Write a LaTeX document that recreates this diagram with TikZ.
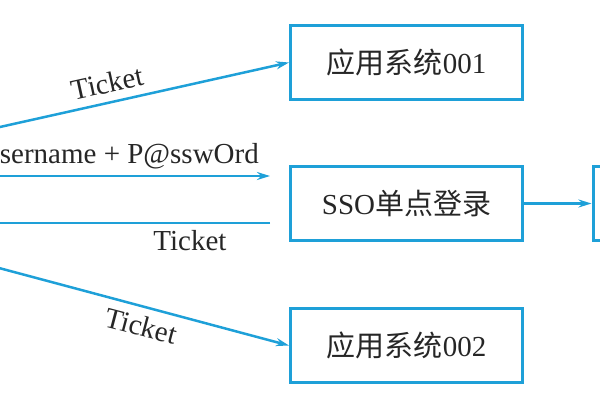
\documentclass[tikz,border=0pt]{standalone}
\usepackage{fontspec}
\setmainfont{Liberation Serif}
\newfontfamily\cjk{Noto Sans CJK SC}
\usetikzlibrary{arrows.meta,calc}
\definecolor{ssoblue}{RGB}{30,160,216}
\begin{document}
\begin{tikzpicture}[x=1pt,y=-1pt,
  box/.style={draw=ssoblue,line width=3pt,minimum width=232pt,minimum height=74pt,inner sep=0pt,font=\fontsize{29}{34}\selectfont,text=black!85},
  conn/.style={draw=ssoblue,line width=2.5pt},
  arr/.style={conn,-{Stealth[length=13pt,width=8pt]}},
  lbl/.style={font=\fontsize{29}{34}\selectfont,text=black!85,inner sep=0pt}]
\useasboundingbox (0,0) rectangle (600,400);
\clip (0,0) rectangle (600,400);
\node[box] (app1) at (406.5,62.5) {{\cjk 应用系统}001};
\node[box] (sso) at (406.5,203.5) {SSO{\cjk 单点登录}};
\node[box] (app2) at (406.5,345.5) {{\cjk 应用系统}002};
\node[box,minimum width=200pt] (auth) at (693,203.5) {};
\coordinate (s1) at (-1,127.2);
\coordinate (s2) at (-1,176);
\coordinate (s3) at (-1,223);
\coordinate (s4) at (-1,268);
\draw[arr] (s1) -- (app1.west);
\draw[arr] (s2) -- ($(sso.west |- s2)+(-19,0)$);
\draw[conn] ($(sso.west |- s3)+(-19,0)$) -- (s3);
\draw[arr] (s4) -- (app2.west);
\draw[arr] (sso.east) -- (auth.west);
\node[lbl,rotate=12.4] (l1) at (107,83) {Ticket};
\node[lbl,anchor=base east] (l2) at (259,163) {Username + P@sswOrd};
\node[lbl,anchor=base] (l3) at (190,250) {Ticket};
\node[lbl,rotate=-14.8] (l4) at (141,326) {Ticket};
\end{tikzpicture}
\end{document}
